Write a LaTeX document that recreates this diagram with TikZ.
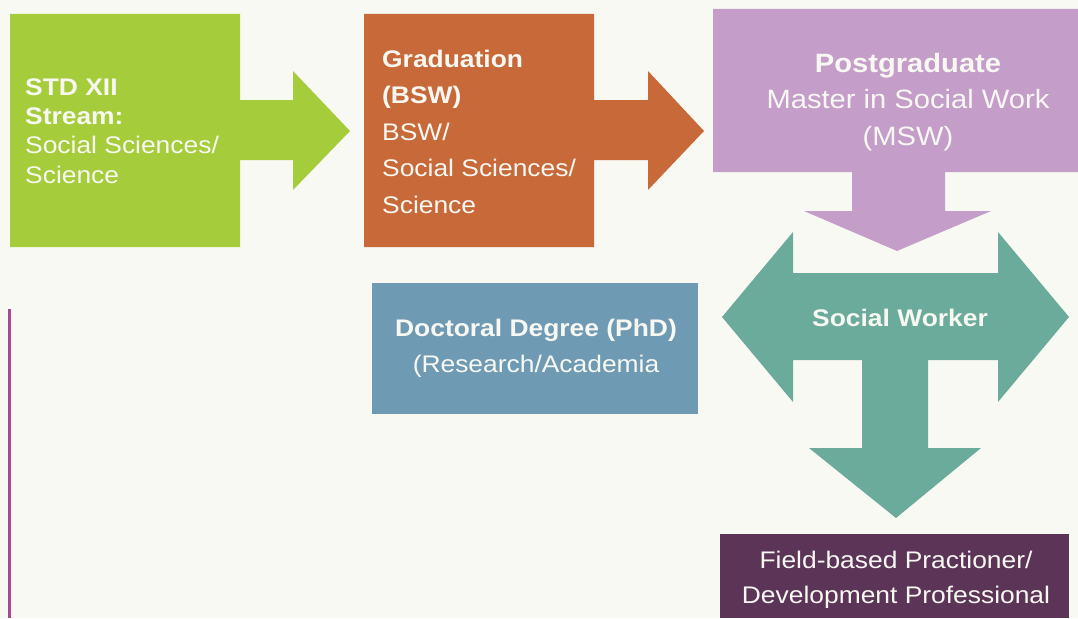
\documentclass[tikz,border=0pt]{standalone}
\usepackage{fontspec}
\setmainfont{Liberation Sans}[FakeStretch=1.1]
\definecolor{bgc}{HTML}{F9F9F4}
\definecolor{greenc}{HTML}{A5CC3A}
\definecolor{orangec}{HTML}{C8693A}
\definecolor{purplec}{HTML}{C49DC9}
\definecolor{bluec}{HTML}{6F9AB4}
\definecolor{tealc}{HTML}{6AAB9B}
\definecolor{darkc}{HTML}{5C3457}
\definecolor{linec}{HTML}{A84A90}
\definecolor{txtc}{HTML}{F8F8F2}
\tikzset{
  lbl/.style={inner sep=0pt, text=txtc, font=\fontsize{24}{#1}\selectfont},
  lbl/.default=29.3
}
\begin{document}
\begin{tikzpicture}[x=1pt,y=-1pt]
\fill[bgc] (0,0) rectangle (1078,618);
\useasboundingbox (0,0) rectangle (1078,618);
% left line
\coordinate (ltop) at (9.5,309);
\coordinate (lbot) at (9.5,618);
\draw[linec, line width=3pt] (ltop) -- (lbot);
% green
\fill[greenc] (10,14) -- (240,14) -- (240,100) -- (293,100) -- (293,71) -- (350,131) -- (293,190) -- (293,160) -- (240,160) -- (240,247) -- (10,247) -- cycle;
\node[lbl, anchor=base west, align=left] (std) at (25,183)
  {\bfseries STD XII\\ \bfseries Stream:\\ Social Sciences/\\ Science};
% orange
\fill[orangec] (364,14) -- (594,14) -- (594,100) -- (648,100) -- (648,71) -- (704,131) -- (648,190) -- (648,160) -- (594,160) -- (594,247) -- (364,247) -- cycle;
\node[lbl=36.5, anchor=base west, align=left] (grad) at (382,213)
  {\bfseries Graduation\\ \bfseries (BSW)\\ BSW/\\ Social Sciences/\\ Science};
% purple
\fill[purplec] (713,9) -- (1078,9) -- (1078,172) -- (945,172) -- (945,211) -- (991,211) -- (897,251) -- (804,211) -- (852,211) -- (852,172) -- (713,172) -- cycle;
\node[inner sep=0pt, text=txtc, font=\fontsize{26.5}{36.5}\selectfont, anchor=base, align=center] (pg) at (908,145)
  {\bfseries Postgraduate\\ Master in Social Work\\ (MSW)};
% teal
\fill[tealc] (722,317) -- (793,232) -- (793,273) -- (998,273) -- (998,232) -- (1069,317) -- (998,402) -- (998,360) -- (928,360) -- (928,448) -- (981,448) -- (896,518) -- (809,448) -- (862,448) -- (862,360) -- (793,360) -- (793,402) -- cycle;
\node[lbl, anchor=base] (sw) at (900,326) {\bfseries Social Worker};
% blue
\fill[bluec] (372,283) rectangle (698,414);
\node[lbl=36, anchor=base, align=center] (phd) at (536,372)
  {\bfseries Doctoral Degree (PhD)\\ (Research/Academia};
% bottom
\fill[darkc] (720,534) rectangle (1069,618);
\node[lbl=34.5, anchor=base, align=center] (field) at (896,603)
  {Field-based Practioner/\\ Development Professional};
\end{tikzpicture}
\end{document}
